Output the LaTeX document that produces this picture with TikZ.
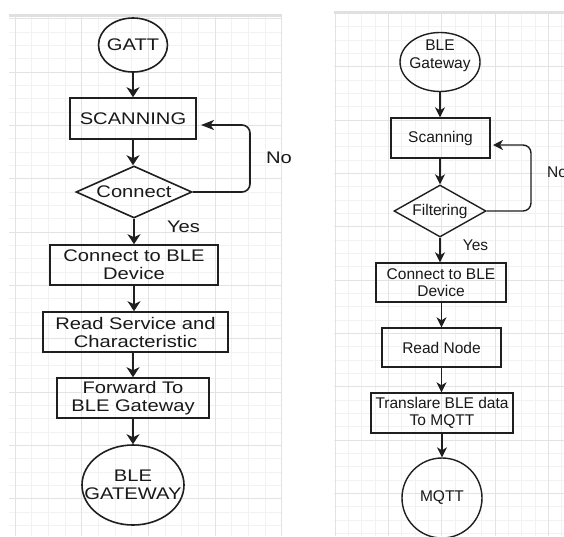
\documentclass[tikz,border=0pt]{standalone}
\usepackage{fontspec}
\setmainfont{Liberation Sans}
\newfontfamily\lfont[FakeStretch=1.2]{Liberation Sans}
\usetikzlibrary{shapes.geometric,arrows.meta,calc}
\begin{document}
\begin{tikzpicture}[x=1pt,y=-1pt,
  ln/.style={draw=black!88,line width=1.4pt},
  lnL/.style={draw=black!88,line width=1.6pt},
  arrL/.style={lnL,-{Stealth[length=10pt,width=13pt,inset=3pt]}},
  arrLh/.style={lnL,-{Stealth[length=13pt,width=10pt,inset=3.5pt]}},
  arrR/.style={ln,-{Stealth[length=10pt,width=10pt,inset=3pt]}},
  lt/.style={font=\lfont\fontsize{16.8}{18}\selectfont, text=black!90, align=center, inner sep=0pt},
  rt/.style={font=\fontsize{15.5}{17.5}\selectfont, text=black!90, align=center, inner sep=0pt},
  minor/.style={draw=black!5,line width=0.8pt},
  major/.style={draw=black!11,line width=0.8pt},
]
\useasboundingbox[fill=white] (0,0) rectangle (564,536);

% left grid
\begin{scope}
\clip (9,17) rectangle (282,536);
\foreach \i in {0,...,17} \draw[minor] ({15+16.667*\i},17) -- ++(0,519);
\foreach \i in {-4,...,35} \draw[minor] (9,{72+13.333*\i}) -- ++(273,0);
\foreach \i in {0,...,4} \draw[major] ({15+66.667*\i},17) -- ++(0,519);
\foreach \i in {-1,...,8} \draw[major] (9,{72+53.333*\i}) -- ++(273,0);
\end{scope}
\fill[black!12] (9,14) rectangle (282,17);

% right grid
\begin{scope}
\clip (334,14) rectangle (564,536);
\foreach \i in {0,...,17} \draw[minor] ({335+13.333*\i},14) -- ++(0,522);
\foreach \i in {-4,...,35} \draw[minor] (334,{66.667+13.333*\i}) -- ++(230,0);
\foreach \i in {0,...,4} \draw[major] ({335+53.333*\i},14) -- ++(0,522);
\foreach \i in {-1,...,9} \draw[major] (334,{66.667+53.333*\i}) -- ++(230,0);
\end{scope}
\fill[black!12] (334,11) rectangle (564,14);

% left flowchart
\node[lnL, ellipse, minimum width=69pt, minimum height=54pt, inner sep=0pt, label={[lt]center:GATT}] (gatt) at (133,45) {};
\node[lnL, lt, minimum width=126pt, minimum height=41pt] (scan) at (133,118.5) {SCANNING};
\node[lnL, diamond, minimum width=116pt, minimum height=52pt, inner sep=0pt, label={[lt]center:Connect}] (conn) at (134,192) {};
\node[lnL, lt, minimum width=168pt, minimum height=40pt] (cble) at (134,265) {Connect to BLE\\Device};
\node[lnL, lt, minimum width=185pt, minimum height=40pt] (read) at (135.5,332) {Read Service and\\Characteristic};
\node[lnL, lt, minimum width=152pt, minimum height=40pt] (fwd) at (133,398) {Forward To\\BLE Gateway};
\node[lnL, ellipse, minimum width=102pt, minimum height=80pt, inner sep=0pt, label={[lt]center:BLE\\GATEWAY}] (gw) at (133,485) {};

\draw[arrL] (gatt.south) -- (gatt.south |- scan.north);
\draw[arrL] (scan.south) -- (scan.south |- conn.north);
\draw[arrL] (conn.south) -- (conn.south |- cble.north);
\draw[arrL] (cble.south) -- (cble.south |- read.north);
\draw[arrL] (fwd.north |- read.south) -- (fwd.north);
\draw[arrL] (fwd.south) -- (fwd.south |- gw.north);

\coordinate (lcorner) at (250,125);
\coordinate (ltip) at (201,125);
\draw[arrLh, rounded corners=8pt] (conn.east) -| (lcorner) -- (ltip);
\node[lt] (no1) at (279,158) {No};
\node[lt] (yes1) at (183.5,227) {Yes};

% right flowchart
\node[ln, ellipse, minimum width=80pt, minimum height=59pt, inner sep=0pt, label={[rt, yshift=6pt]center:BLE\\Gateway}] (bgw) at (440,62) {};
\node[ln, rt, minimum width=99pt, minimum height=40pt] (rscan) at (440.5,138) {Scanning};
\node[ln, diamond, minimum width=92pt, minimum height=52pt, inner sep=0pt, label={[rt]center:Filtering}] (filt) at (440,211) {};
\node[ln, rt, minimum width=130pt, minimum height=39pt] (rcble) at (441,282.5) {Connect to BLE\\Device};
\node[ln, rt, minimum width=119pt, minimum height=39pt] (rnode) at (441.5,347.5) {Read Node};
\node[ln, rt, minimum width=142pt, minimum height=40pt] (trans) at (442,413) {Translare BLE data\\To MQTT};
\node[ln, circle, minimum size=80pt, inner sep=0pt, label={[rt]center:MQTT}] (mqtt) at (442,498) {};

\draw[arrR] (bgw.south) -- (bgw.south |- rscan.north);
\draw[arrR] (filt.north |- rscan.south) -- (filt.north);
\draw[arrR] (filt.south) -- (filt.south |- rcble.north);
\draw[arrR] (rnode.north |- rcble.south) -- (rnode.north);
\draw[arrR] (rnode.south) -- (rnode.south |- trans.north);
\draw[arrR] (mqtt.north |- trans.south) -- (mqtt.north);

\coordinate (rcorner) at (531,145);
\coordinate (rtip) at (493,145);
\draw[arrR, rounded corners=8pt] (filt.east) -| (rcorner) -- (rtip);
\node[rt, anchor=west] (no2) at (547,172) {No};
\node[rt] (yes2) at (475.5,245) {Yes};
\end{tikzpicture}
\end{document}
